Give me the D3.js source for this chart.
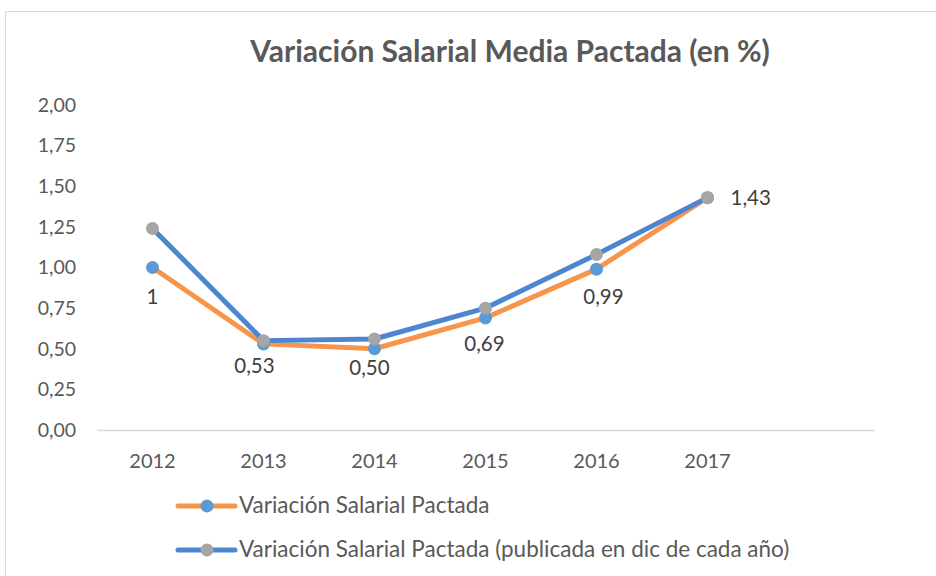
<!DOCTYPE html>
<html><head><meta charset="utf-8">
<script src="https://cdn.jsdelivr.net/npm/d3@7"></script>
<style>body{margin:0;background:#fff;}svg{display:block;}</style>
</head><body><svg id="c" width="936" height="576"></svg>
<script>
const categories = ["2012","2013","2014","2015","2016","2017",""];
const years = ["2012","2013","2014","2015","2016","2017"];
const seriesNames = ["Variación Salarial Pactada","Variación Salarial Pactada (publicada en dic de cada año)"];
const pactada = [1.00,0.53,0.50,0.69,0.99,1.43];
const publicada = [1.24,0.55,0.56,0.75,1.08,1.43];
const pactadaLabels = ["1","0,53","0,50","0,69","0,99","1,43"];
const yTicks = [0,0.25,0.5,0.75,1,1.25,1.5,1.75,2];

const svg = d3.select("#c");
const font = "Lato, 'Open Sans', sans-serif";
svg.append("rect").attr("x",5.5).attr("y",11.5).attr("width",940).attr("height",580)
  .attr("fill","#fff").attr("stroke","#d9d9d9").attr("stroke-width",1);

const x = d3.scaleBand().domain(categories).range([97,874]);
const y = d3.scaleLinear().domain([0,2]).range([430,105]);
const cx = d => x(d)+x.bandwidth()/2;

svg.append("text").attr("x",510).attr("y",62).attr("text-anchor","middle")
  .attr("font-family",font).attr("font-weight","bold").attr("font-size",30)
  .attr("fill","#595959").text("Variación Salarial Media Pactada (en %)");

// y axis labels
const fmt = v => d3.format(".2f")(v).replace(".",",");
const ya = svg.append("g").attr("transform","translate(76,0)")
  .call(d3.axisLeft(y).tickValues(yTicks).tickFormat(fmt).tickSize(0).tickPadding(0));
ya.select(".domain").remove();
ya.selectAll("text").attr("font-family",font).attr("font-size",19.5).attr("fill","#595959");

// baseline
const xa = svg.append("g").attr("transform","translate(0,430)")
  .call(d3.axisBottom(x).tickSize(0).tickPadding(24));
xa.select(".domain").attr("stroke","#d9d9d9").attr("stroke-width",1.5);
xa.selectAll("text").attr("font-family",font).attr("font-size",20).attr("fill","#595959");

const line = d3.line().x((d,i)=>cx(years[i])).y(d=>y(d));
svg.append("path").datum(pactada).attr("d",line).attr("fill","none")
  .attr("stroke","#F7964A").attr("stroke-width",5).attr("stroke-linejoin","round");
svg.append("path").datum(publicada).attr("d",line).attr("fill","none")
  .attr("stroke","#4D85D1").attr("stroke-width",5).attr("stroke-linejoin","round");
svg.selectAll(".m1").data(pactada).enter().append("circle")
  .attr("cx",(d,i)=>cx(years[i])).attr("cy",d=>y(d)).attr("r",6.5).attr("fill","#5B9BD5");
svg.selectAll(".m2").data(publicada).enter().append("circle")
  .attr("cx",(d,i)=>cx(years[i])).attr("cy",d=>y(d)).attr("r",6.5).attr("fill","#A5A5A5");

// data labels (offsets relative to the point)
const dxs = [0,-9,-5,-1,7,23];
const dys = [36,29,26,33,35,7];
svg.selectAll(".lbl").data(pactada).enter().append("text")
  .attr("x",(d,i)=> cx(years[i])+dxs[i])
  .attr("y",(d,i)=> y(d)+dys[i])
  .attr("text-anchor",(d,i)=> i===5 ? "start" : "middle")
  .attr("font-family",font).attr("font-size",20.5).attr("fill","#404040")
  .text((d,i)=>pactadaLabels[i]);

// legend
const leg = [{c:"#F7964A",m:"#5B9BD5",y:506},{c:"#4D85D1",m:"#A5A5A5",y:550}];
leg.forEach((l,i)=>{
  svg.append("line").attr("x1",178).attr("x2",235).attr("y1",l.y).attr("y2",l.y)
    .attr("stroke",l.c).attr("stroke-width",5).attr("stroke-linecap","round");
  svg.append("circle").attr("cx",207).attr("cy",l.y).attr("r",6.5).attr("fill",l.m);
  svg.append("text").attr("x",239).attr("y",l.y+7).attr("font-family",font)
    .attr("font-size",22.5).attr("fill","#595959").text(seriesNames[i]);
});
</script></body></html>
